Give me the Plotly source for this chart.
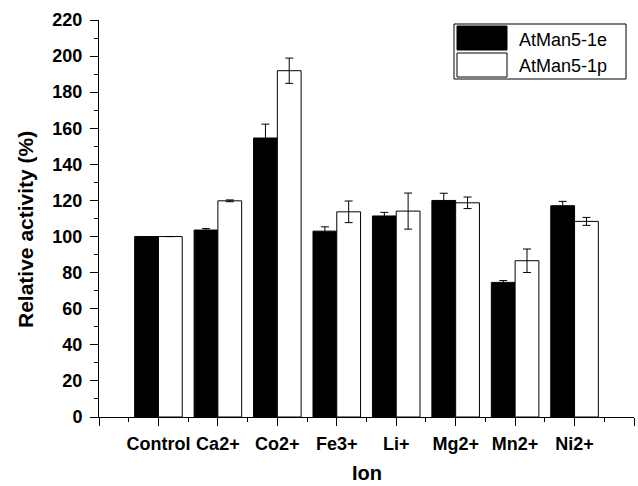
import plotly.graph_objects as go

# ---- data ----
ions = ["Control", "Ca2+", "Co2+", "Fe3+", "Li+", "Mg2+", "Mn2+", "Ni2+"]
e_vals = [100, 103.6, 154.6, 103.0, 111.4, 120.0, 74.6, 117.1]
e_err = [0, 0.8, 7.7, 2.4, 2.0, 4.0, 1.0, 2.4]
p_vals = [100, 119.8, 191.9, 113.7, 114.1, 118.7, 86.6, 108.4]
p_err = [0, 0.5, 7.0, 6.0, 10.0, 3.2, 6.5, 2.2]
series_names = ["AtMan5-1e", "AtMan5-1p"]

W, H = 638, 486
L, R, T, B = 99, 4, 20, 69
pw, ph = W - L - R, H - T - B

def px_x(x):
    return (x - L) / pw

def px_y(y):
    return (H - B - y) / ph

positions = list(range(1, len(ions) + 1))
tickvals = [0] + positions + [len(ions) + 1]
ticktext = [""] + ions + [""]

fig = go.Figure()
fig.add_trace(go.Bar(
    x=positions, y=e_vals, name=series_names[0],
    marker=dict(color="black", line=dict(color="black", width=1)),
    error_y=dict(type="data", array=e_err, color="black", thickness=1, width=4),
    showlegend=False,
))
fig.add_trace(go.Bar(
    x=positions, y=p_vals, name=series_names[1],
    marker=dict(color="white", line=dict(color="black", width=1)),
    error_y=dict(type="data", array=p_err, color="black", thickness=1, width=4),
    showlegend=False,
))

font_bold = "Liberation Sans"

fig.update_layout(
    width=W, height=H,
    margin=dict(l=L, r=R, t=T, b=B, pad=0),
    paper_bgcolor="white", plot_bgcolor="white",
    barmode="group", bargap=0.2, bargroupgap=0,
    font=dict(family=font_bold, color="black"),
    xaxis=dict(
        range=[0, len(ions) + 1], tickmode="array", tickvals=tickvals, ticktext=ticktext,
        ticks="outside", ticklen=8, tickwidth=1, tickcolor="black",
        showline=True, linecolor="black", linewidth=1, showgrid=False, zeroline=False,
        tickfont=dict(size=18, family=font_bold, weight="bold"),
        ticklabelstandoff=2,
        minor=dict(dtick=0.5, tick0=0, ticks="outside", ticklen=4, tickwidth=1, tickcolor="black", showgrid=False),
    ),
    yaxis=dict(
        range=[0, 220], dtick=20, tick0=0,
        ticks="outside", ticklen=8, tickwidth=1, tickcolor="black",
        showline=True, linecolor="black", linewidth=1, showgrid=False, zeroline=False,
        tickfont=dict(size=18, family=font_bold, weight="bold"),
        ticklabelstandoff=4,
        minor=dict(dtick=10, ticks="outside", ticklen=4, tickwidth=1, tickcolor="black", showgrid=False),
    ),
)

# axis titles
fig.add_annotation(text="<b>Relative activity (%)</b>", xref="paper", yref="paper",
                   x=px_x(25), y=px_y(230), textangle=-90, showarrow=False,
                   xanchor="center", yanchor="middle", font=dict(size=21))
fig.add_annotation(text="<b>Ion</b>", xref="paper", yref="paper",
                   x=px_x(367), y=px_y(473), showarrow=False,
                   xanchor="center", yanchor="middle", font=dict(size=20),
                   borderpad=0)

# custom legend
fig.add_shape(type="rect", xref="paper", yref="paper",
              x0=px_x(454), x1=px_x(626), y0=px_y(79), y1=px_y(24),
              line=dict(color="black", width=1), fillcolor="white")
fig.add_shape(type="rect", xref="paper", yref="paper",
              x0=px_x(457), x1=px_x(507), y0=px_y(50), y1=px_y(26),
              line=dict(color="black", width=1), fillcolor="black")
fig.add_shape(type="rect", xref="paper", yref="paper",
              x0=px_x(457), x1=px_x(507), y0=px_y(77), y1=px_y(53),
              line=dict(color="black", width=1), fillcolor="white")
for name, yc in zip(series_names, [40, 66]):
    fig.add_annotation(text=name, xref="paper", yref="paper",
                       x=px_x(517), y=px_y(yc), showarrow=False,
                       xanchor="left", yanchor="middle", font=dict(size=18))

fig.write_html("out.html")
